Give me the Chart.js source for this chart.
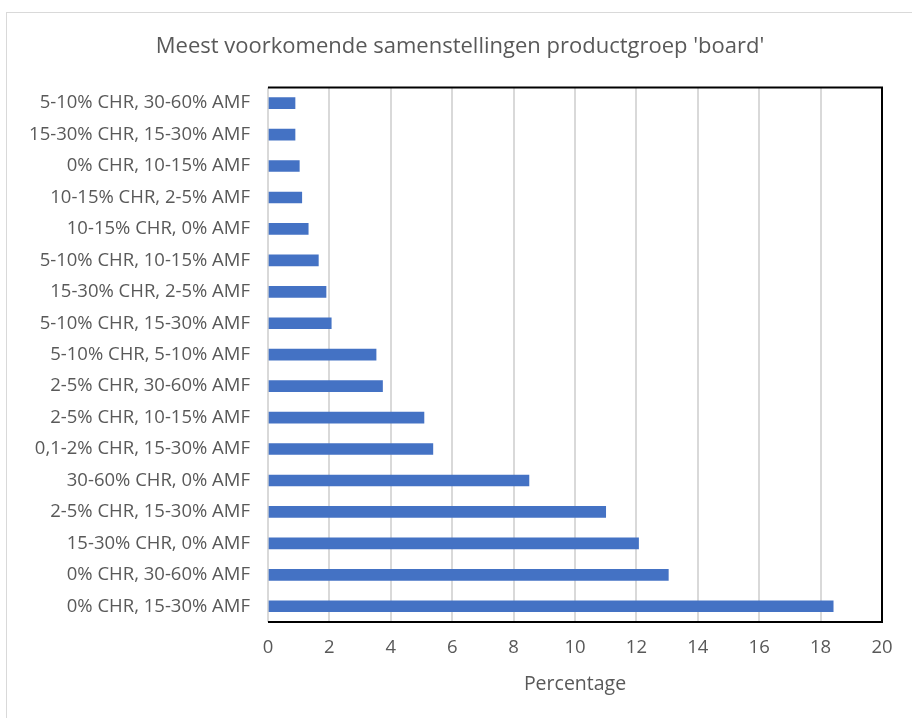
<!DOCTYPE html>
<html>
<head>
<meta charset="utf-8">
<script src="https://cdn.jsdelivr.net/npm/chart.js@4/dist/chart.umd.min.js"></script>
<style>
  html, body { margin: 0; padding: 0; background: #fff; }
  #wrap { position: relative; width: 912px; height: 718px; }
  #frame { position: absolute; left: 6px; top: 12px; width: 920px; height: 720px; border-top: 1px solid #d9d9d9; border-left: 1px solid #d9d9d9; box-sizing: border-box; pointer-events: none; }
  canvas { position: absolute; left: 0; top: 0; }
</style>
</head>
<body>
<div id="wrap">
  <div id="frame"></div>
  <canvas id="c" width="912" height="718"></canvas>
</div>
<script>
const chartTitle = "Meest voorkomende samenstellingen productgroep 'board'";
const axisTitle = "Percentage";
const categories = [
  "5-10% CHR, 30-60% AMF",
  "15-30% CHR, 15-30% AMF",
  "0% CHR, 10-15% AMF",
  "10-15% CHR, 2-5% AMF",
  "10-15% CHR, 0% AMF",
  "5-10% CHR, 10-15% AMF",
  "15-30% CHR, 2-5% AMF",
  "5-10% CHR, 15-30% AMF",
  "5-10% CHR, 5-10% AMF",
  "2-5% CHR, 30-60% AMF",
  "2-5% CHR, 10-15% AMF",
  "0,1-2% CHR, 15-30% AMF",
  "30-60% CHR, 0% AMF",
  "2-5% CHR, 15-30% AMF",
  "15-30% CHR, 0% AMF",
  "0% CHR, 30-60% AMF",
  "0% CHR, 15-30% AMF"
];
const percentages = [0.88, 0.88, 1.02, 1.1, 1.31, 1.64, 1.89, 2.06, 3.52, 3.73, 5.08, 5.37, 8.5, 11.0, 12.07, 13.04, 18.41];
const xTicks = [0, 2, 4, 6, 8, 10, 12, 14, 16, 18, 20];

const FONT = "'Open Sans', 'Liberation Sans', sans-serif";
const GREY = '#595959';

const borderPlugin = {
  id: 'plotBorder',
  afterLayout(chart) {
    // centre the title a little to the right, as in the reference
    if (chart.titleBlock) { chart.titleBlock.left = 38; }
  },
  afterDatasetsDraw(chart) {
    const { ctx, chartArea: a } = chart;
    ctx.save();
    ctx.strokeStyle = '#000';
    ctx.lineWidth = 2;
    ctx.beginPath();
    ctx.moveTo(a.left, a.top);
    ctx.lineTo(a.right, a.top);
    ctx.lineTo(a.right, a.bottom);
    ctx.lineTo(a.left, a.bottom);
    ctx.stroke();
    ctx.restore();
  }
};

new Chart(document.getElementById('c'), {
  type: 'bar',
  data: {
    labels: categories,
    datasets: [{
      data: percentages,
      backgroundColor: '#4472C4',
      borderWidth: 0,
      barThickness: 11
    }]
  },
  options: {
    indexAxis: 'y',
    responsive: false,
    animation: false,
    layout: { padding: { left: 0, right: 30, top: 0, bottom: 0 } },
    plugins: {
      legend: { display: false },
      tooltip: { enabled: false },
      title: {
        display: true,
        text: chartTitle,
        color: GREY,
        font: { family: FONT, size: 22, weight: 'normal' },
        padding: { top: 34, bottom: 27 }
      }
    },
    scales: {
      x: {
        min: 0, max: 20,
        afterBuildTicks(scale) { scale.ticks = xTicks.map(v => ({ value: v })); },
        grid: { color: '#d9d9d9', lineWidth: 2, drawTicks: false },
        border: { display: false },
        ticks: { color: GREY, font: { family: FONT, size: 18.5 }, padding: 15 },
        title: {
          display: true, text: axisTitle, color: GREY,
          font: { family: FONT, size: 19.5 },
          padding: { top: 0, bottom: 22 }
        },
        afterFit(scale) { scale.height = 96; }
      },
      y: {
        grid: { display: false, drawTicks: false },
        border: { display: false },
        ticks: { color: GREY, font: { family: FONT, size: 18.5 }, padding: 18, autoSkip: false },
        afterFit(scale) { scale.width = 268; }
      }
    }
  },
  plugins: [borderPlugin]
});
</script>
</body>
</html>
